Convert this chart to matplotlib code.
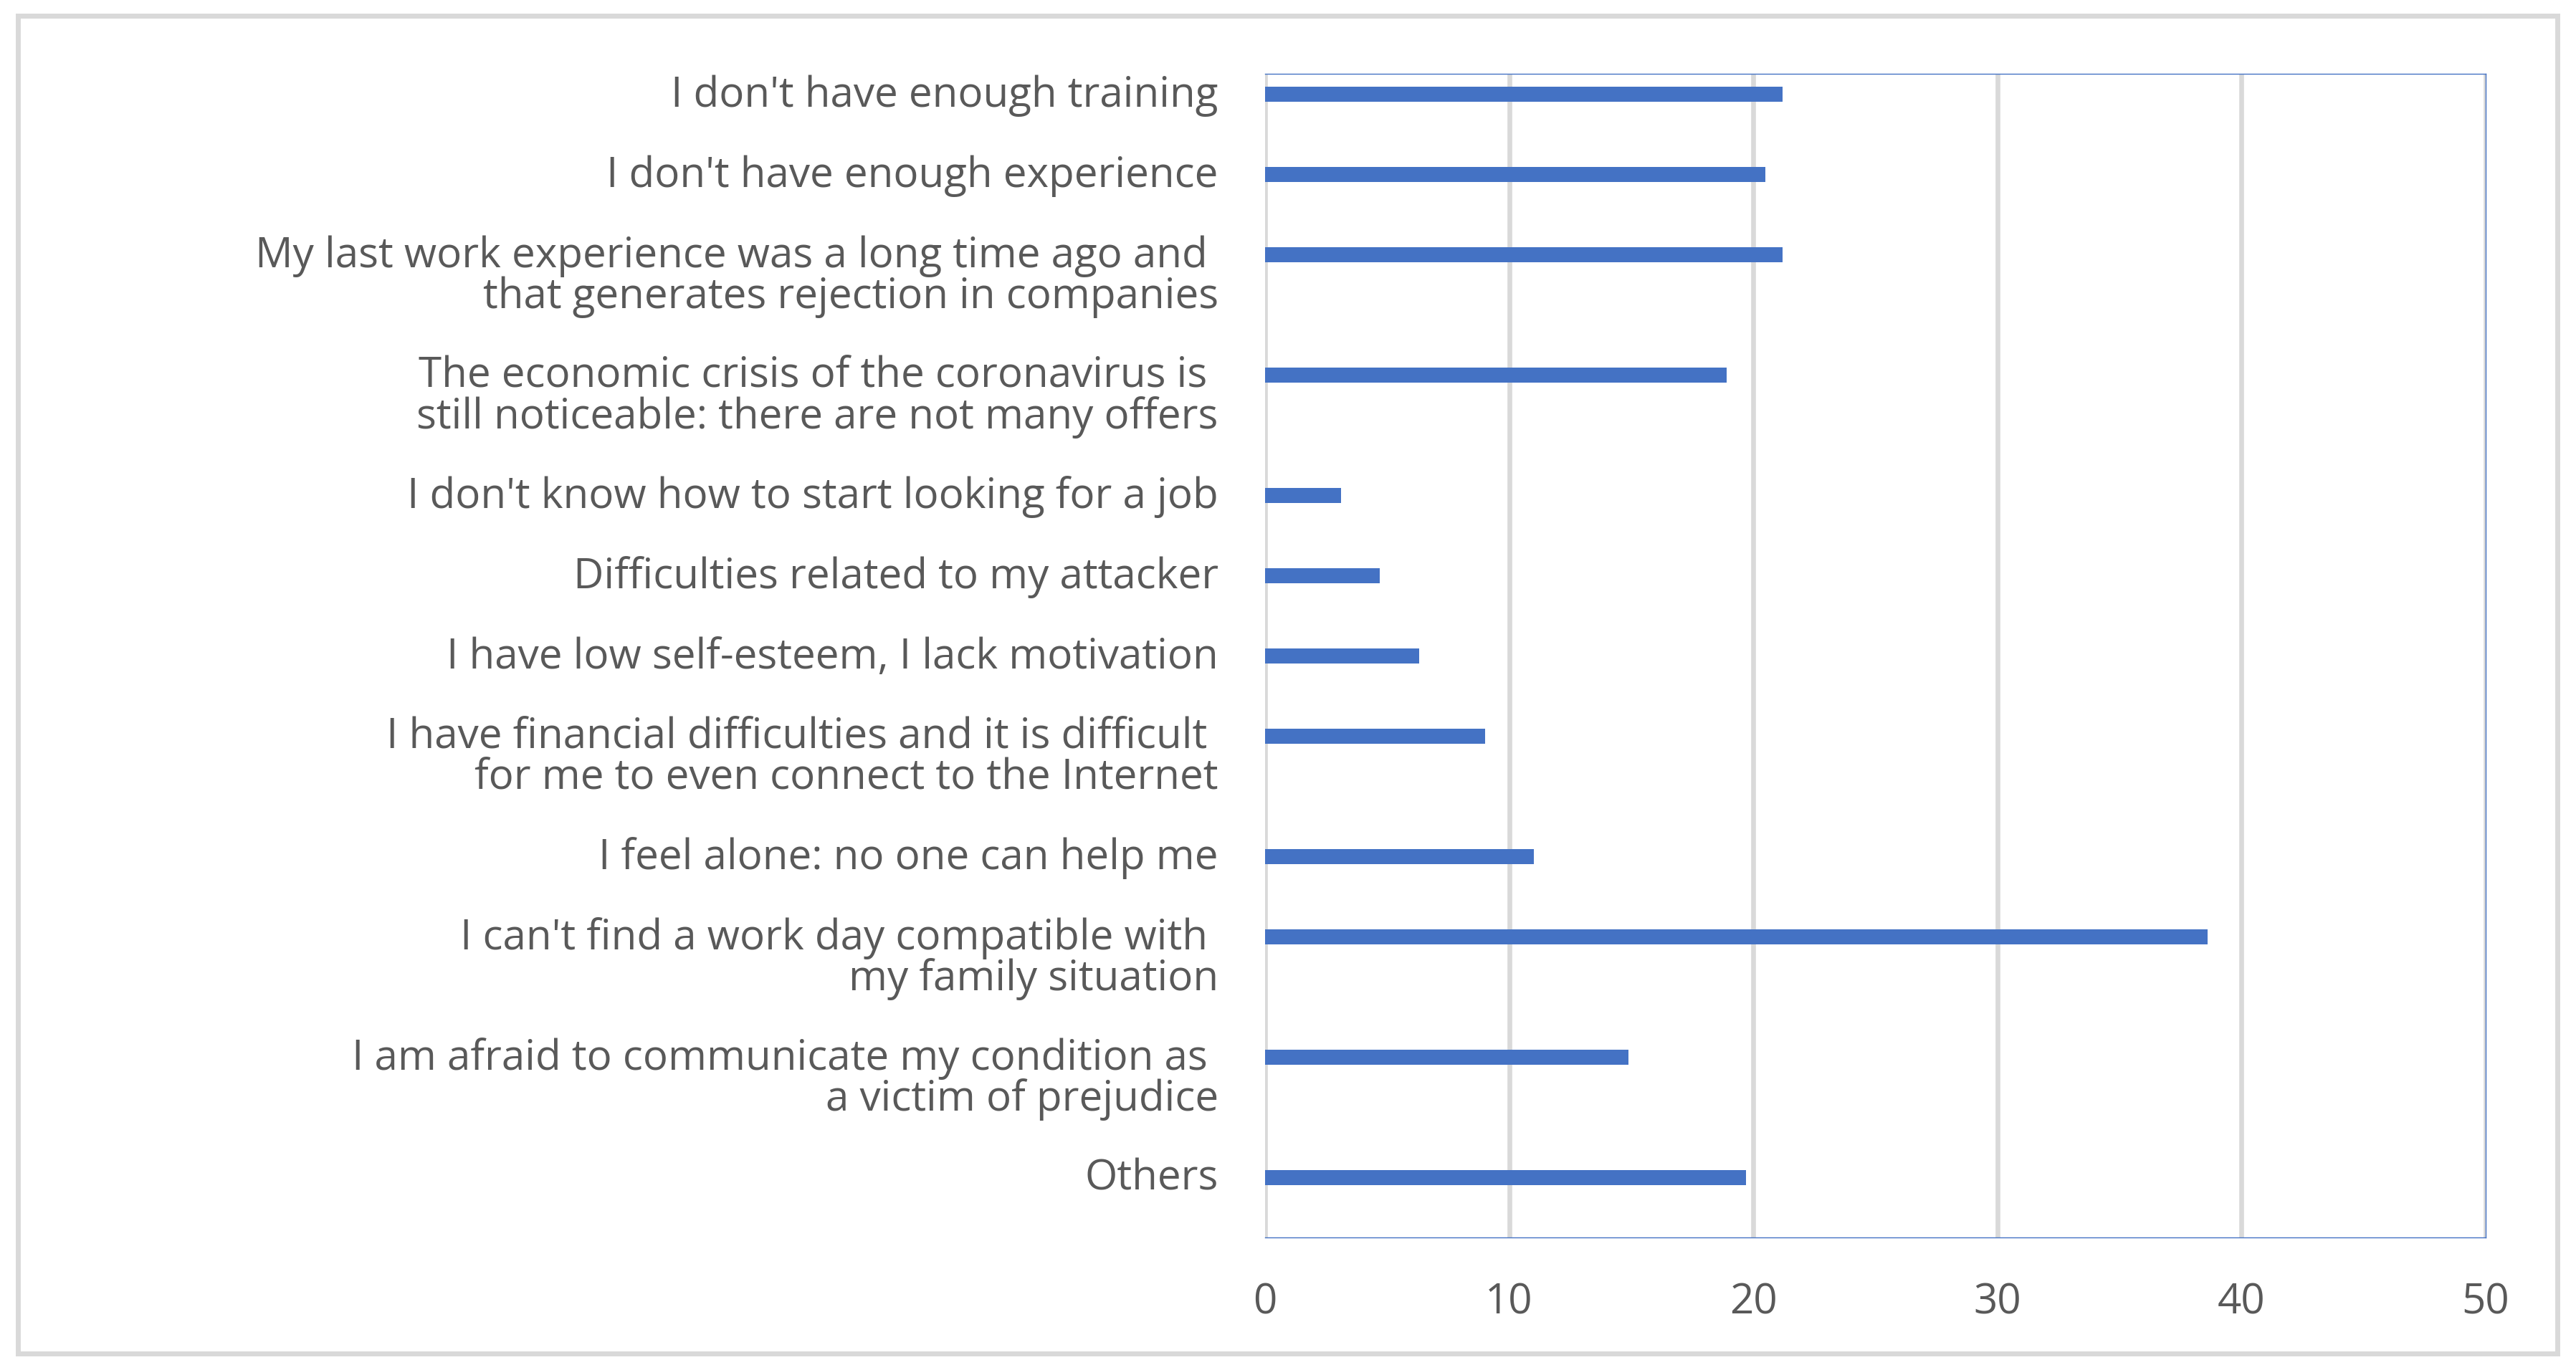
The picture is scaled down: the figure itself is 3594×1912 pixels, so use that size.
import numpy as np
import matplotlib
matplotlib.use("Agg")
import matplotlib.pyplot as plt
from matplotlib.patches import Rectangle

plt.rcParams['font.family'] = ['Open Sans', 'DejaVu Sans']

# datos
categorias = [
    "I don't have enough training",
    "I don't have enough experience",
    "My last work experience was a long time ago and \nthat generates rejection in companies",
    "The economic crisis of the coronavirus is \nstill noticeable: there are not many offers",
    "I don't know how to start looking for a job",
    "Difficulties related to my attacker",
    "I have low self-esteem, I lack motivation",
    "I have financial difficulties and it is difficult \nfor me to even connect to the Internet",
    "I feel alone: no one can help me",
    "I can't find a work day compatible with \nmy family situation",
    "I am afraid to communicate my condition as \na victim of prejudice",
    "Others",
]
valores = [21.2, 20.5, 21.2, 18.9, 3.1, 4.7, 6.3, 9.0, 11.0, 38.6, 14.9, 19.7]
ticks_x = [0, 10, 20, 30, 40, 50]

AZUL = "#4472C4"
GRIS = "#D9D9D9"
TEXTO = "#595959"

# las etiquetas de dos lineas ocupan un hueco y medio
n_lineas = [c.count("\n") + 1 for c in categorias]
huecos = [1 + 0.5 * (n - 1) for n in n_lineas]
inicios = np.concatenate([[0], np.cumsum(huecos)[:-1]])
y_barras = inicios + 0.254
interlinea = 0.51

fig = plt.figure(figsize=(35.94, 19.12), dpi=100)
ax = fig.add_axes([0.4911, 0.0968, 0.4738, 0.8493])

ax.barh(y_barras, valores, height=0.19, color=AZUL, zorder=3)

ax.set_xlim(0, 50)
ax.set_ylim(sum(huecos), 0)
ax.set_xticks(ticks_x)
ax.set_xticklabels([str(t) for t in ticks_x])
ax.set_yticks([])
ax.tick_params(axis="x", length=0, pad=45, labelsize=42, labelcolor=TEXTO)

for t in ticks_x:
    ax.axvline(t, color=GRIS, linewidth=4.8, zorder=1)

for lado in ["top", "right", "bottom"]:
    ax.spines[lado].set_color(AZUL)
    ax.spines[lado].set_linewidth(1.0)
ax.spines["left"].set_visible(False)

for cat, y in zip(categorias, y_barras):
    for j, linea in enumerate(cat.split("\n")):
        ax.annotate(linea, xy=(0, y + j * interlinea), xytext=(-47, -1.5),
                    textcoords="offset points", ha="right", va="center",
                    fontsize=42, color=TEXTO)

# marco exterior del grafico
fig.patches.append(Rectangle((25 / 3594, 1 - 1889 / 1912), (3568 - 25) / 3594, (1889 - 22) / 1912,
                             transform=fig.transFigure, fill=False,
                             edgecolor=GRIS, linewidth=5))

fig.savefig("out.png", dpi=100, facecolor="white")
